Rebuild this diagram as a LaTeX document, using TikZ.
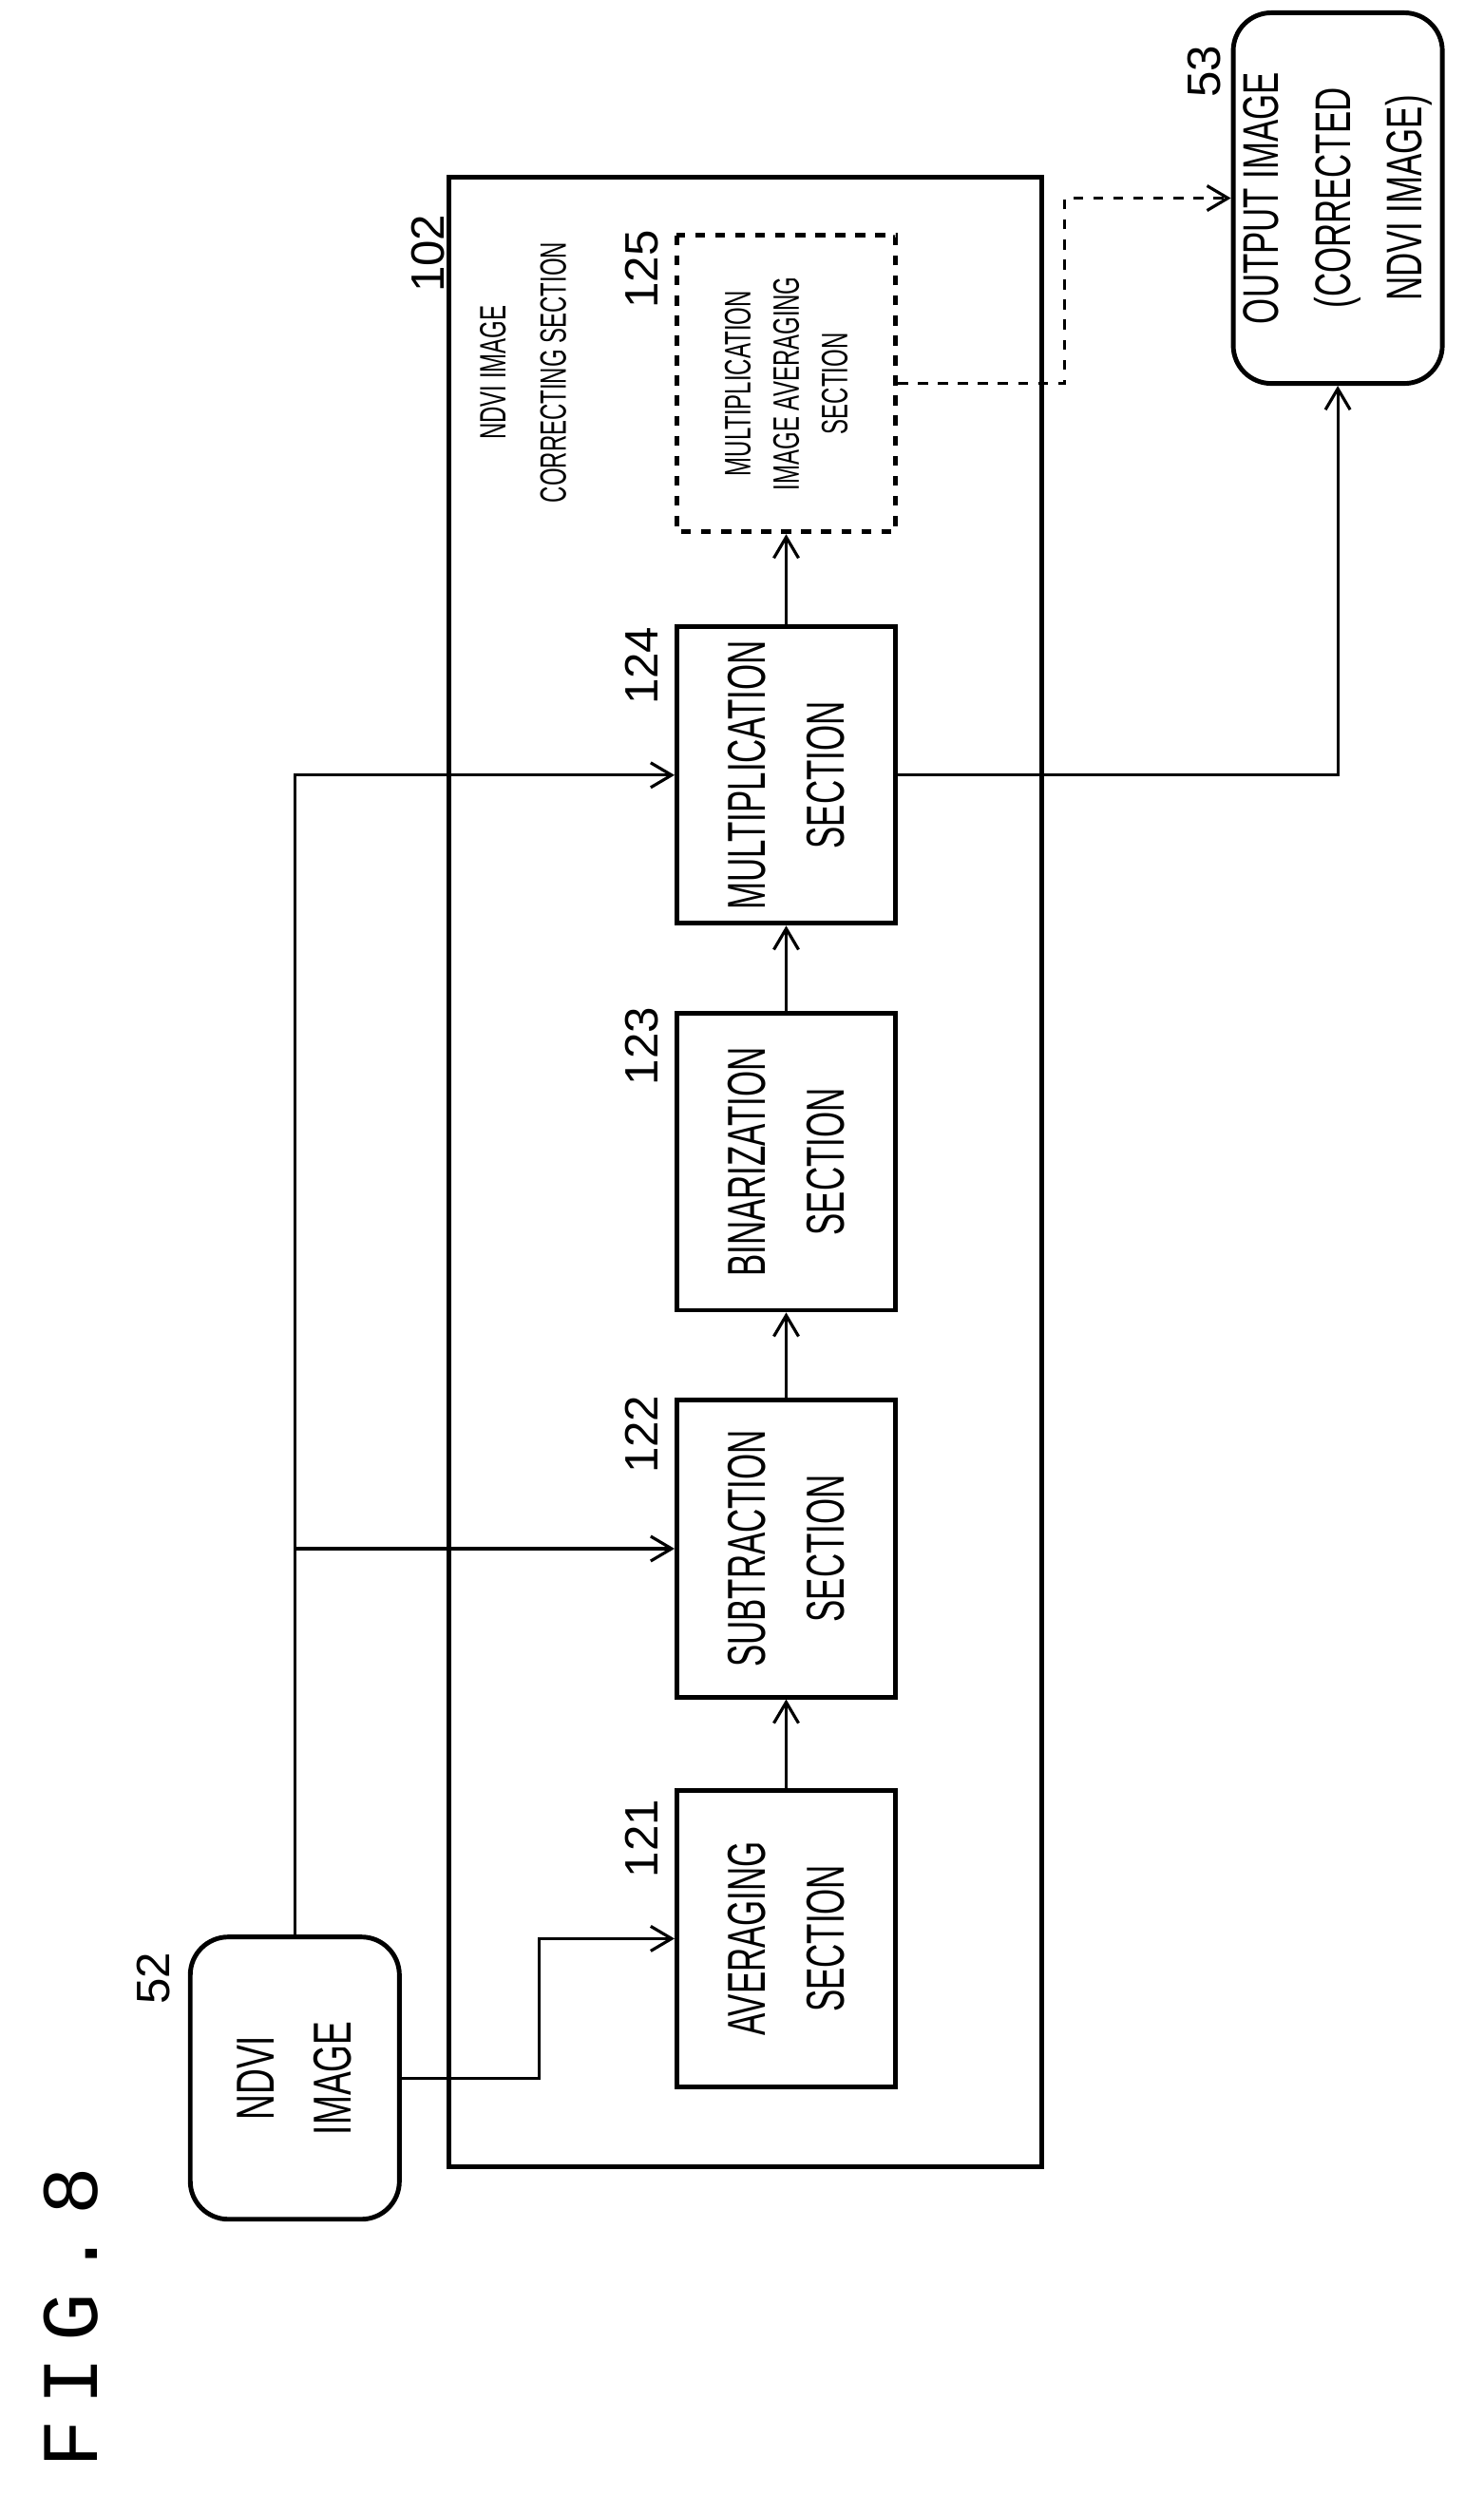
\documentclass[tikz,border=0pt]{standalone}
\usepackage{fontspec}
\setmainfont{Liberation Sans}
\newfontfamily\condfont[FakeStretch=0.62]{Liberation Sans}
\newfontfamily\midfont[FakeStretch=0.66]{Liberation Sans}
\newfontfamily\figfont{Liberation Mono}
\usetikzlibrary{calc}
\usetikzlibrary{arrows.meta}
\usetikzlibrary{positioning}
\tikzset{
  block/.style={rectangle, draw, line width=1.4pt, rotate=90, align=center,
    minimum width=31.2mm, minimum height=23mm, inner sep=0pt,
    font=\condfont\fontsize{16}{23.6}\selectfont},
  optblock/.style={block, dashed, font=\condfont\fontsize{11}{14.5}\selectfont},
  terminal/.style={rectangle, draw, line width=1.4pt, rounded corners=4mm, rotate=90,
    align=center, minimum height=22mm, inner sep=0pt},
  refnum/.style={rotate=90, font=\fontsize{14}{16}\selectfont},
  arrow/.style={draw, line width=0.9pt, -{Straight Barb[length=2.2mm, width=2.6mm]}},
  dasharrow/.style={arrow, dashed}
  }
\begin{document}
\begin{tikzpicture}[x=0.01668cm, y=-0.01668cm]
	\useasboundingbox (0,0) rectangle (936,1586);
	% Frame
	\draw [line width=1.4pt] (283,112) rectangle (657,1367);
	\node[rotate=90, align=center, font=\condfont\fontsize{11}{18}\selectfont] (title) at (330,235) {NDVI IMAGE\\CORRECTING SECTION};
	\node[refnum] (n102) at (270,160) {102};

	% Nodes
	\node[terminal, minimum width=29.7mm, font=\midfont\fontsize{16}{23}\selectfont] (ndvi) at (186,1311) {NDVI\\IMAGE};
	\node[block] (avg) at (496,1223) {AVERAGING\\SECTION};
	\node[block] (sub) at (496,977) {SUBTRACTION\\SECTION};
	\node[block] (bin) at (496,733) {BINARIZATION\\SECTION};
	\node[block] (mul) at (496,489) {MULTIPLICATION\\SECTION};
	\node[optblock] (mavg) at (496,242) {MULTIPLICATION\\IMAGE AVERAGING\\SECTION};
	\node[terminal, minimum width=39mm, font=\midfont\fontsize{15}{21.5}\selectfont] (out) at (844,125) {OUTPUT IMAGE\\(CORRECTED\\NDVI IMAGE)};

	\node[refnum] (n52) at (97,1248) {52};
	\node[refnum] (n121) at (405,1160) {121};
	\node[refnum] (n122) at (405,905) {122};
	\node[refnum] (n123) at (405,660) {123};
	\node[refnum] (n124) at (405,420) {124};
	\node[refnum] (n125) at (405,170) {125};
	\node[refnum] (n53) at (760,45) {53};

	\node[rotate=90, font=\figfont\fontsize{24}{26}\selectfont] (fig) at (45,1462) {F\hspace{1.6mm}I\hspace{1.6mm}G\hspace{1.6mm}.\hspace{1.6mm}8};

	% Arrows
	\coordinate (jog) at (340,1223);
	\draw [arrow] (ndvi.south) -| (jog) -- (avg.north);
	\draw [arrow] (ndvi.east) |- (mul.north);
	\draw [arrow] (ndvi.east |- sub.north) -- (sub.north);
	\draw [arrow] (avg.east) -- (sub.west);
	\draw [arrow] (sub.east) -- (bin.west);
	\draw [arrow] (bin.east) -- (mul.west);
	\draw [arrow] (mul.east) -- (mavg.west);
	\draw [arrow] (mul.south) -| (out.west);
	\draw [dasharrow] (mavg.south) -| ($(mavg.south)!.5!(out.north)$) |- (out.north);
\end{tikzpicture}
\end{document}
